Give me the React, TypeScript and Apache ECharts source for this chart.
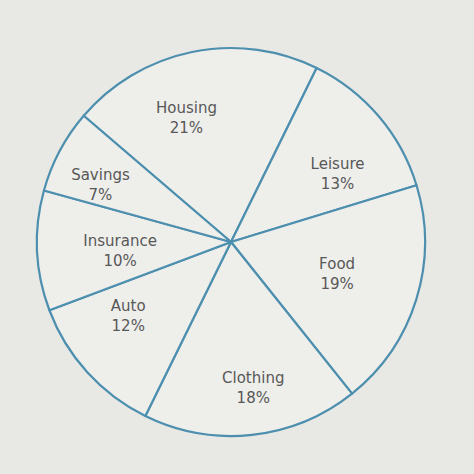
import React, { useEffect, useRef } from "react";
import * as echarts from "echarts";

const categories = ["Housing", "Leisure", "Food", "Clothing", "Auto", "Insurance", "Savings"];
const shares = [21, 13, 19, 18, 12, 10, 7];

// hand nudges so the labels sit where they do in the original drawing
const labelNudge: Record<string, [number, number]> = {
  Housing: [-18, 5],
  Leisure: [6, 18],
  Food: [-20, -7],
  Clothing: [8, 15],
  Auto: [-5, -15],
  Insurance: [21, 3],
  Savings: [-14, 5],
};

function BudgetPie() {
  const chartRef = useRef<HTMLDivElement>(null);

  useEffect(() => {
    const myChart = echarts.init(chartRef.current!, null, { renderer: "svg" });
    const data = categories.map((name, i) => ({ name, value: shares[i] }));
    const option: echarts.EChartsOption = {
      animation: false,
      backgroundColor: "#e8e8e5",
      series: [
        {
          type: "pie",
          center: [231, 242],
          radius: 194,
          startAngle: 139.4,
          clockwise: true,
          silent: true,
          label: { show: false },
          labelLine: { show: false },
          itemStyle: {
            color: "#eeeeeb",
            borderColor: "#4d8fae",
            borderWidth: 2.2,
          },
          emphasis: { disabled: true },
          data: data,
        },
        {
          type: "pie",
          center: [231, 242],
          radius: 258,
          startAngle: 139.4,
          clockwise: true,
          silent: true,
          itemStyle: { color: "rgba(0,0,0,0)", borderWidth: 0 },
          labelLine: { show: false },
          label: {
            show: true,
            position: "inside",
            formatter: "{b}\n{c}%",
            color: "#585858",
            fontFamily: "DejaVu Sans",
            fontSize: 15,
            lineHeight: 20,
            align: "center",
          },
          labelLayout: (params: any) => {
            const n = labelNudge[categories[params.dataIndex]] || [0, 0];
            return { dx: n[0], dy: n[1] };
          },
          emphasis: { disabled: true },
          data: data,
        },
      ],
    };

    myChart.setOption(option);

    return () => {
      myChart.dispose();
    };
  }, []);

  return (
    <div
      ref={chartRef}
      style={{ position: "absolute", left: 0, top: 0, width: 474, height: 474 }}
    />
  );
}

export default function App() {
  return <BudgetPie />;
}
